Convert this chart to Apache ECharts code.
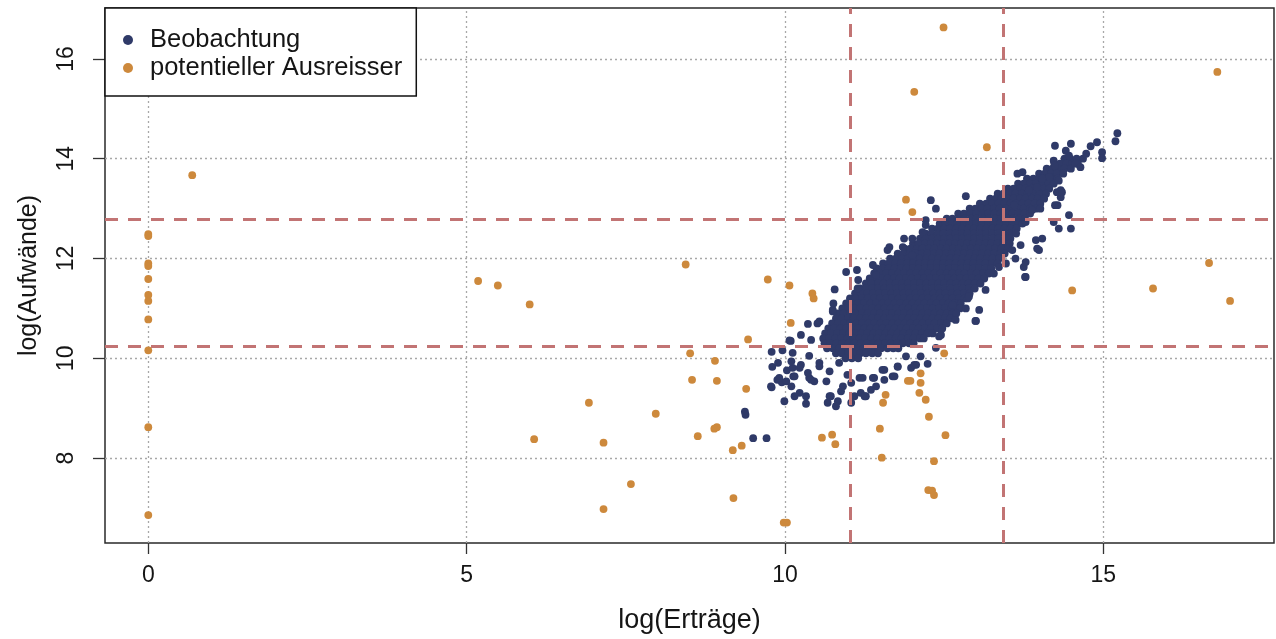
<!DOCTYPE html>
<html>
<head>
<meta charset="utf-8">
<script src="https://cdn.jsdelivr.net/npm/echarts@6/dist/echarts.min.js"></script>
<style>
  html, body { margin: 0; padding: 0; background: #ffffff; }
  #chart { width: 1276px; height: 639px; }
</style>
</head>
<body>
<div id="chart"></div>
<script>
// Achsenbeschriftung
const xTicks = [0, 5, 10, 15];
const yTicks = [8, 10, 12, 14, 16];

// Schwellenwerte (gestrichelte Linien)
const xGrenzen = [11.02, 13.43];
const yGrenzen = [10.25, 12.79];

// Dichter Kern der Beobachtungen: je Zeile [log(Aufwände), log(Erträge) ...]
const kernZeilen = [
  [14.0, 14.39, 14.48, 14.58, 14.68],
  [13.9, 14.23, 14.32, 14.42, 14.51, 14.60],
  [13.8, 14.11, 14.20, 14.30, 14.39, 14.49],
  [13.7, 13.99, 14.08, 14.18, 14.27, 14.37],
  [13.6, 13.80, 13.90, 13.99, 14.09, 14.18, 14.28],
  [13.5, 13.66, 13.75, 13.85, 13.94, 14.04, 14.13, 14.22],
  [13.4, 13.50, 13.59, 13.69, 13.78, 13.88, 13.97, 14.07, 14.15],
  [13.3, 13.34, 13.43, 13.53, 13.62, 13.72, 13.81, 13.91, 14.00, 14.10],
  [13.2, 13.22, 13.31, 13.40, 13.50, 13.59, 13.69, 13.78, 13.88, 13.97, 14.07],
  [13.1, 13.06, 13.16, 13.25, 13.35, 13.44, 13.54, 13.63, 13.73, 13.82, 13.92, 14.01],
  [13.0, 12.90, 12.99, 13.09, 13.18, 13.28, 13.37, 13.47, 13.56, 13.66, 13.75, 13.85, 13.94],
  [12.9, 12.72, 12.81, 12.91, 13.00, 13.10, 13.19, 13.29, 13.38, 13.48, 13.57, 13.67, 13.76, 13.85],
  [12.8, 12.54, 12.63, 12.73, 12.82, 12.92, 13.01, 13.11, 13.20, 13.30, 13.39, 13.49, 13.58, 13.68, 13.77],
  [12.7, 12.43, 12.52, 12.62, 12.71, 12.81, 12.90, 13.00, 13.09, 13.19, 13.28, 13.38, 13.47, 13.57, 13.66, 13.73],
  [12.6, 12.31, 12.40, 12.50, 12.59, 12.69, 12.78, 12.88, 12.97, 13.07, 13.16, 13.26, 13.35, 13.45, 13.54, 13.64],
  [12.5, 12.21, 12.30, 12.40, 12.49, 12.59, 12.68, 12.78, 12.87, 12.97, 13.06, 13.16, 13.25, 13.35, 13.44, 13.54, 13.63],
  [12.4, 12.12, 12.21, 12.31, 12.40, 12.50, 12.59, 12.69, 12.78, 12.88, 12.97, 13.07, 13.16, 13.26, 13.35, 13.45, 13.54],
  [12.3, 12.01, 12.10, 12.20, 12.29, 12.39, 12.48, 12.58, 12.67, 12.77, 12.86, 12.96, 13.05, 13.15, 13.24, 13.34, 13.43, 13.53],
  [12.2, 11.88, 11.97, 12.07, 12.16, 12.26, 12.35, 12.45, 12.54, 12.64, 12.73, 12.83, 12.92, 13.02, 13.11, 13.21, 13.30, 13.40, 13.50],
  [12.1, 11.77, 11.86, 11.96, 12.05, 12.15, 12.24, 12.34, 12.43, 12.53, 12.62, 12.72, 12.81, 12.91, 13.00, 13.10, 13.19, 13.29, 13.38, 13.45],
  [12.0, 11.65, 11.74, 11.84, 11.93, 12.03, 12.12, 12.22, 12.31, 12.41, 12.50, 12.60, 12.69, 12.79, 12.88, 12.98, 13.07, 13.17, 13.26, 13.36],
  [11.9, 11.54, 11.63, 11.73, 11.82, 11.92, 12.01, 12.11, 12.20, 12.30, 12.39, 12.49, 12.58, 12.68, 12.77, 12.87, 12.96, 13.06, 13.15, 13.25, 13.34],
  [11.8, 11.44, 11.53, 11.63, 11.72, 11.82, 11.91, 12.01, 12.10, 12.20, 12.29, 12.39, 12.48, 12.58, 12.67, 12.77, 12.86, 12.96, 13.05, 13.15, 13.24],
  [11.7, 11.40, 11.49, 11.59, 11.68, 11.78, 11.87, 11.97, 12.06, 12.16, 12.25, 12.35, 12.44, 12.54, 12.63, 12.73, 12.82, 12.92, 13.01, 13.11, 13.20],
  [11.6, 11.33, 11.42, 11.52, 11.61, 11.71, 11.80, 11.90, 11.99, 12.09, 12.18, 12.28, 12.37, 12.47, 12.56, 12.66, 12.75, 12.85, 12.94, 13.04, 13.13],
  [11.5, 11.27, 11.36, 11.46, 11.55, 11.65, 11.74, 11.84, 11.93, 12.03, 12.12, 12.22, 12.31, 12.41, 12.50, 12.60, 12.69, 12.79, 12.88, 12.98, 13.07],
  [11.4, 11.18, 11.27, 11.37, 11.46, 11.56, 11.65, 11.75, 11.84, 11.94, 12.03, 12.13, 12.22, 12.32, 12.41, 12.51, 12.60, 12.70, 12.79, 12.89, 12.98],
  [11.3, 11.10, 11.19, 11.29, 11.38, 11.48, 11.57, 11.67, 11.76, 11.86, 11.95, 12.05, 12.14, 12.24, 12.33, 12.43, 12.52, 12.62, 12.71, 12.81, 12.90],
  [11.2, 11.02, 11.11, 11.21, 11.30, 11.40, 11.49, 11.59, 11.68, 11.78, 11.87, 11.97, 12.06, 12.16, 12.25, 12.35, 12.44, 12.54, 12.63, 12.73, 12.82, 12.87],
  [11.1, 10.96, 11.05, 11.15, 11.24, 11.34, 11.43, 11.53, 11.62, 11.72, 11.81, 11.91, 12.00, 12.10, 12.19, 12.29, 12.38, 12.48, 12.57, 12.67, 12.76],
  [11.0, 10.90, 10.99, 11.09, 11.18, 11.28, 11.37, 11.47, 11.56, 11.66, 11.75, 11.85, 11.94, 12.04, 12.13, 12.23, 12.32, 12.42, 12.51, 12.61, 12.70, 12.75],
  [10.9, 10.83, 10.92, 11.02, 11.11, 11.21, 11.30, 11.40, 11.49, 11.59, 11.68, 11.78, 11.87, 11.97, 12.06, 12.16, 12.25, 12.35, 12.44, 12.54, 12.63, 12.69],
  [10.8, 10.80, 10.89, 10.99, 11.08, 11.18, 11.27, 11.37, 11.46, 11.56, 11.65, 11.75, 11.84, 11.94, 12.03, 12.13, 12.22, 12.32, 12.41, 12.51, 12.60],
  [10.7, 10.74, 10.83, 10.93, 11.02, 11.12, 11.21, 11.31, 11.40, 11.50, 11.59, 11.69, 11.78, 11.88, 11.97, 12.07, 12.16, 12.26, 12.35, 12.45, 12.54],
  [10.6, 10.68, 10.77, 10.87, 10.96, 11.06, 11.15, 11.25, 11.34, 11.44, 11.53, 11.63, 11.72, 11.82, 11.91, 12.01, 12.10, 12.20, 12.29, 12.39, 12.47],
  [10.5, 10.63, 10.72, 10.82, 10.91, 11.01, 11.10, 11.20, 11.29, 11.39, 11.48, 11.58, 11.67, 11.77, 11.86, 11.96, 12.05, 12.15, 12.24, 12.32],
  [10.4, 10.60, 10.69, 10.79, 10.88, 10.98, 11.07, 11.17, 11.26, 11.36, 11.45, 11.55, 11.64, 11.74, 11.83, 11.93, 12.02, 12.12, 12.18],
  [10.3, 10.62, 10.71, 10.81, 10.90, 11.00, 11.09, 11.19, 11.28, 11.38, 11.47, 11.57, 11.66, 11.76, 11.85, 11.95, 12.02],
  [10.2, 10.66, 10.75, 10.85, 10.94, 11.04, 11.13, 11.23, 11.32, 11.42, 11.51, 11.61, 11.70, 11.78],
  [10.1, 10.80, 10.89, 10.99, 11.08, 11.18, 11.27, 11.37, 11.46],
  [10.0, 10.95, 11.05, 11.15]
];

// Einzeln liegende Beobachtungen am Rand der Punktwolke [log(Erträge), log(Aufwände)]
const beobachtungEinzeln = [
  [9.37, 8.93], [9.38, 8.87], [9.50, 8.40], [9.71, 8.40],
  [9.79, 10.13], [9.96, 10.16], [9.80, 9.83], [9.79, 9.42], [9.99, 9.14], [9.88, 9.57],
  [9.95, 9.52], [10.09, 10.35], [10.03, 9.76], [10.13, 9.64], [10.96, 11.73], [11.13, 11.77],
  [11.15, 11.57], [10.78, 11.38], [10.76, 11.10], [10.75, 10.94], [10.36, 10.69], [10.51, 10.70],
  [10.25, 10.47], [10.41, 10.37], [10.07, 10.36], [10.12, 10.11], [10.38, 10.05], [10.25, 9.87],
  [10.12, 9.81], [10.54, 9.91], [10.70, 9.74], [9.91, 9.61], [10.02, 9.54], [10.38, 9.61],
  [10.46, 9.54], [10.65, 9.54], [9.78, 9.44], [10.23, 9.31], [10.33, 9.24], [10.33, 9.09],
  [10.72, 9.24], [10.83, 9.14], [10.67, 9.11], [10.88, 9.34], [11.04, 9.11], [11.17, 9.61],
  [11.19, 9.31], [11.27, 9.24], [11.40, 9.61], [11.43, 9.44], [11.56, 9.57], [11.56, 9.77],
  [11.77, 9.83], [11.69, 9.64], [11.98, 9.81], [12.06, 9.87], [11.90, 10.04], [10.85, 9.91],
  [10.98, 9.67], [9.89, 9.91], [10.10, 9.94], [10.54, 10.74], [10.15, 9.24], [10.10, 9.44],
  [10.15, 9.64], [10.23, 9.81], [10.36, 9.71], [10.41, 9.57], [10.54, 9.84], [10.70, 9.24],
  [10.80, 9.04], [11.04, 9.51], [10.91, 9.44], [11.09, 9.24], [11.25, 9.24], [11.22, 9.61],
  [11.35, 9.37], [11.38, 9.61], [11.53, 9.77], [11.72, 9.64], [11.77, 9.84], [12.03, 9.87],
  [12.24, 9.89], [12.13, 10.04], [12.37, 10.21], [12.42, 10.44], [12.45, 10.47], [12.68, 10.77],
  [13.00, 10.75], [12.63, 11.07], [12.84, 11.00], [13.05, 10.97], [12.89, 11.24], [13.15, 11.37],
  [13.28, 11.70], [13.36, 11.83], [13.47, 11.90], [13.62, 12.00], [13.75, 11.83], [13.78, 11.63],
  [13.57, 12.17], [13.70, 12.27], [13.94, 12.37], [13.99, 12.17], [14.04, 12.40], [14.22, 12.73],
  [14.30, 12.60], [14.49, 12.60], [14.46, 12.87], [14.28, 13.07], [13.88, 12.97], [14.01, 13.00],
  [13.78, 12.73], [13.60, 13.07], [13.65, 13.70], [13.73, 13.73], [12.84, 13.25], [12.29, 13.17],
  [12.37, 13.00], [12.21, 12.77], [12.21, 12.67], [12.16, 12.53], [12.00, 12.40], [11.87, 12.40],
  [11.64, 12.23], [11.61, 12.17], [11.85, 12.23], [12.00, 12.07], [11.38, 11.87], [11.43, 11.67],
  [11.14, 11.40], [10.75, 10.97],
  [14.24, 14.26], [14.49, 14.30], [14.41, 14.16], [14.46, 14.06], [14.80, 14.25], [14.90, 14.33],
  [14.73, 14.10], [14.98, 14.13], [14.98, 14.01], [15.22, 14.51], [15.19, 14.35], [14.56, 13.90],
  [14.64, 13.83], [14.22, 13.96], [14.24, 13.86], [14.15, 13.63], [14.30, 13.56], [14.04, 13.60],
  [13.96, 13.43], [14.33, 13.37], [14.33, 13.23], [13.83, 13.37],
  [14.24, 13.07], [14.27, 13.33], [14.35, 13.33], [13.96, 12.20], [13.78, 11.93], [13.77, 11.63],
  [12.99, 10.75]
];

// Potentielle Ausreisser [log(Erträge), log(Aufwände)]
const ausreisser = [
  [0.69, 13.67], [0, 12.49], [0, 12.45], [0, 11.90], [0, 11.85], [0, 11.59], [0, 11.27],
  [0, 11.15], [0, 10.78], [0, 10.16], [0, 8.62], [0, 6.86],
  [5.18, 11.55], [5.49, 11.46], [5.99, 11.08], [8.44, 11.88], [9.73, 11.58], [10.07, 11.46],
  [10.09, 10.71], [9.42, 10.38], [8.51, 10.10], [8.90, 9.95], [8.54, 9.57], [8.93, 9.55],
  [9.39, 9.39], [6.92, 9.11], [7.97, 8.89], [8.93, 8.62], [8.89, 8.59], [8.63, 8.44],
  [6.06, 8.38], [7.15, 8.31], [9.32, 8.25], [9.18, 8.16], [7.58, 7.48], [9.19, 7.20],
  [7.15, 6.98], [9.98, 6.71], [10.03, 6.71],
  [12.50, 10.10], [12.13, 9.70], [11.93, 9.55], [11.97, 9.55], [12.13, 9.51], [11.58, 9.27],
  [11.54, 9.11], [12.11, 9.31], [12.21, 9.17], [12.26, 8.83], [11.49, 8.59], [12.52, 8.46],
  [10.58, 8.41], [10.74, 8.47], [10.79, 8.28], [11.52, 8.01], [12.34, 7.94], [12.25, 7.36],
  [12.31, 7.35], [12.34, 7.26],
  [13.17, 14.23], [11.90, 13.18], [12.00, 12.93], [10.43, 11.30], [10.45, 11.20], [14.51, 11.36],
  [16.79, 15.74], [15.78, 11.40], [16.66, 11.91], [16.99, 11.15], [12.49, 16.63], [12.03, 15.34]
];

const beobachtung = kernZeilen
  .flatMap(zeile => zeile.slice(1).map(x => [x, zeile[0]]))
  .concat(beobachtungEinzeln);

const FONT = '"Liberation Sans", Arial, sans-serif';
const TEXT = '#151515';
const NAVY = '#2f3a68';
const ORANGE = '#cd893c';
const PUNKT = 7.8;

const chart = echarts.init(document.getElementById('chart'), null, { renderer: 'canvas' });

chart.setOption({
  animation: false,
  backgroundColor: '#ffffff',
  textStyle: { fontFamily: FONT },
  grid: {
    left: 105, top: 8, width: 1169, height: 536,
    show: true, borderColor: '#2a2a2a', borderWidth: 1.5,
    backgroundColor: 'transparent'
  },
  legend: {
    left: 105, top: 8,
    orient: 'vertical',
    data: ['Beobachtung', 'potentieller Ausreisser'],
    icon: 'circle',
    itemWidth: 10, itemHeight: 10,
    itemGap: 2,
    padding: [19, 14, 15, 18],
    borderColor: '#111111', borderWidth: 1.5, borderRadius: 0,
    backgroundColor: '#ffffff',
    selectedMode: false,
    textStyle: { fontSize: 25.5, color: TEXT, fontFamily: FONT, padding: [0, 0, 0, 12] }
  },
  xAxis: {
    type: 'value',
    min: -0.68, max: 17.68,
    name: 'log(Erträge)',
    nameLocation: 'middle',
    nameGap: 64,
    nameTextStyle: { fontSize: 27, color: TEXT, fontFamily: FONT },
    axisLine: { show: false, onZero: false },
    splitLine: { show: false },
    axisTick: { show: true, customValues: xTicks, length: 11, lineStyle: { color: '#333333', width: 1.3 } },
    axisLabel: { customValues: xTicks, fontSize: 23, color: TEXT, margin: 21, fontFamily: FONT }
  },
  yAxis: {
    type: 'value',
    min: 6.3, max: 17.02,
    name: 'log(Aufwände)',
    nameLocation: 'middle',
    nameRotate: 90,
    nameGap: 63,
    nameTextStyle: { fontSize: 25, color: TEXT, fontFamily: FONT },
    axisLine: { show: false, onZero: false },
    splitLine: { show: false },
    axisTick: { show: true, customValues: yTicks, length: 12, lineStyle: { color: '#333333', width: 1.3 } },
    axisLabel: { customValues: yTicks, rotate: 90, fontSize: 23, color: TEXT, margin: 27, fontFamily: FONT }
  },
  series: [
    {
      // Hilfslinien im Raster
      name: 'raster',
      type: 'line',
      data: [],
      silent: true,
      markLine: {
        z: 1,
        silent: true,
        symbol: ['none', 'none'],
        label: { show: false },
        lineStyle: { color: '#a8a8a8', width: 1.3, type: [2, 3] },
        data: xTicks.map(v => ({ xAxis: v })).concat(yTicks.map(v => ({ yAxis: v })))
      }
    },
    {
      name: 'Beobachtung',
      type: 'scatter',
      z: 2,
      data: beobachtung,
      symbol: 'circle',
      symbolSize: PUNKT,
      itemStyle: { color: NAVY, opacity: 1 },
      emphasis: { disabled: true }
    },
    {
      name: 'potentieller Ausreisser',
      type: 'scatter',
      z: 3,
      data: ausreisser,
      symbol: 'circle',
      symbolSize: PUNKT,
      itemStyle: { color: ORANGE, opacity: 1 },
      emphasis: { disabled: true }
    },
    {
      // Grenzwerte
      name: 'grenzen',
      type: 'line',
      data: [],
      silent: true,
      markLine: {
        z: 10,
        silent: true,
        symbol: ['none', 'none'],
        label: { show: false },
        lineStyle: { color: '#c27474', width: 3, type: [13, 10] },
        data: xGrenzen.map(v => ({ xAxis: v })).concat(yGrenzen.map(v => ({ yAxis: v })))
      }
    }
  ]
});
</script>
</body>
</html>
